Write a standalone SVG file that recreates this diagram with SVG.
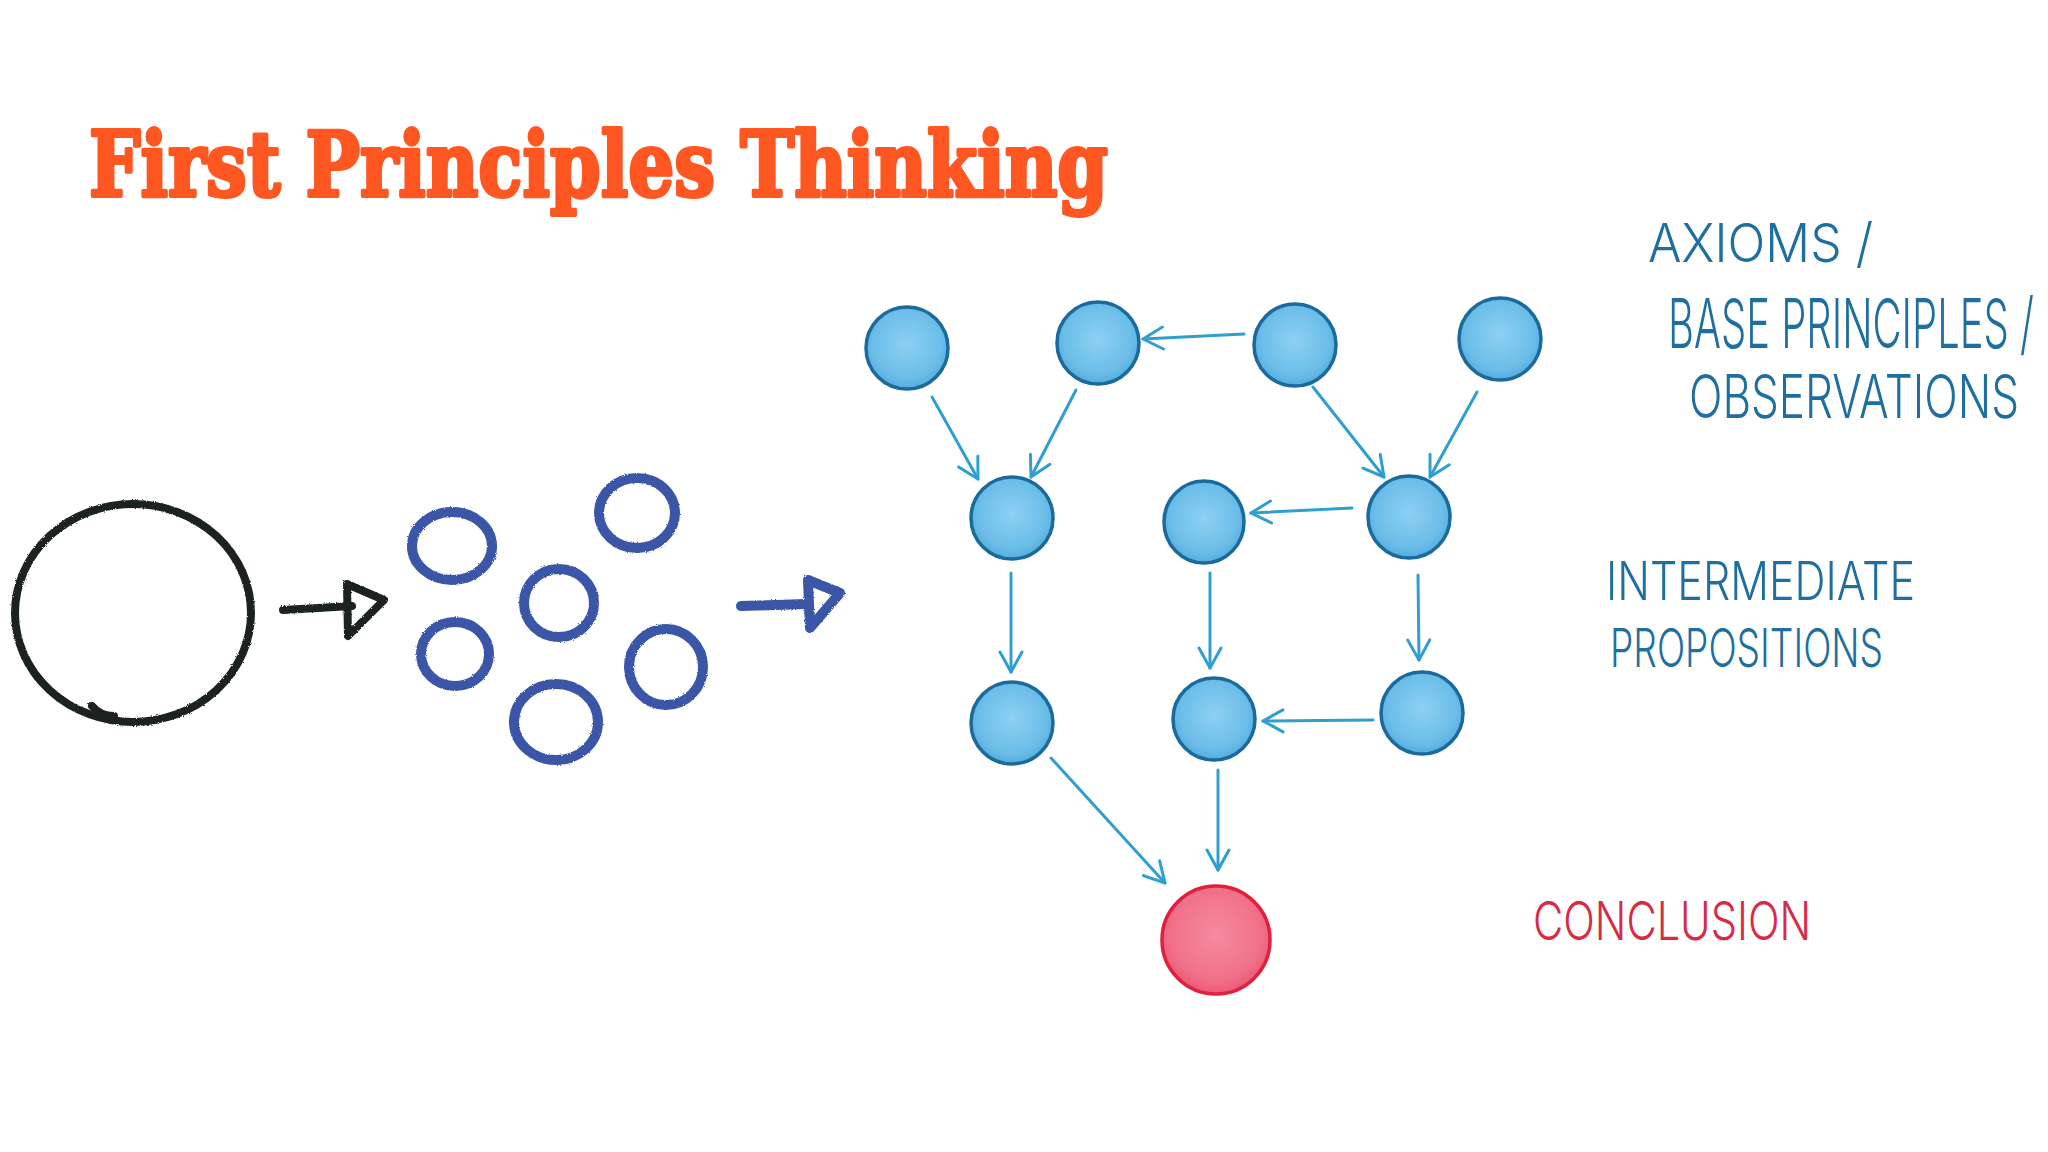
<svg xmlns="http://www.w3.org/2000/svg" width="2048" height="1152" viewBox="0 0 2048 1152">
  <defs>
    <radialGradient id="gBlue" cx="50%" cy="45%" r="60%">
      <stop offset="0" stop-color="#8dd0f2"/>
      <stop offset="0.7" stop-color="#6bbde8"/>
      <stop offset="1" stop-color="#4aa6da"/>
    </radialGradient>
    <radialGradient id="gRed" cx="50%" cy="45%" r="60%">
      <stop offset="0" stop-color="#f58aa0"/>
      <stop offset="0.7" stop-color="#f07189"/>
      <stop offset="1" stop-color="#ea4f6c"/>
    </radialGradient>
    <marker id="vhead" markerUnits="userSpaceOnUse" markerWidth="26" markerHeight="26" viewBox="0 0 26 26" refX="23" refY="13" orient="auto">
      <path d="M3,2 L23,13 L3,24" fill="none" stroke="#2f9fd0" stroke-width="3" stroke-linecap="round" stroke-linejoin="round"/>
    </marker>
    <filter id="rough" x="-10%" y="-10%" width="120%" height="120%">
      <feTurbulence type="fractalNoise" baseFrequency="0.9" numOctaves="2" seed="3"/>
      <feDisplacementMap in="SourceGraphic" scale="2.5"/>
    </filter>
  </defs>
  <style>
    .title { font-family: "DejaVu Serif", "Liberation Serif", serif; font-weight: 900; font-size: 90px; fill: #ff5722; stroke: #ff5722; stroke-width: 4; stroke-linejoin: round; }
    .node { fill: url(#gBlue); stroke: #1b6a9c; stroke-width: 3.5; }
    .concl { fill: url(#gRed); stroke: #e0203c; stroke-width: 3.5; }
    .edge { fill: none; stroke: #2f9fd0; stroke-width: 3; stroke-linecap: round; marker-end: url(#vhead); }
    .crayonBlack { fill: none; stroke: #1f2124; stroke-width: 8; stroke-linecap: round; stroke-linejoin: round; }
    .crayonBlue { fill: none; stroke: #3b56a6; stroke-width: 10; stroke-linecap: round; stroke-linejoin: round; }
    .hand { font-family: "Inter", "Liberation Sans", sans-serif; font-weight: 300; font-size: 54px; fill: #1e6f9f; }
    .handRed { font-family: "Inter", "Liberation Sans", sans-serif; font-weight: 300; font-size: 54px; fill: #d92a45; }
  </style>

  <rect x="0" y="0" width="2048" height="1152" fill="#ffffff"/>

  <text class="title" x="89" y="196" textLength="1019" lengthAdjust="spacingAndGlyphs">First Principles Thinking</text>

  <!-- Left sketch: whole, broken into pieces -->
  <g id="whole" filter="url(#rough)">
    <ellipse class="crayonBlack" cx="133" cy="613" rx="118" ry="109"/>
    <path class="crayonBlack" d="M92,706 Q100,716 114,716"/>
  </g>
  <g id="arrow-black" filter="url(#rough)">
    <path class="crayonBlack" d="M283,610 L352,606" stroke-width="20"/>
    <path class="crayonBlack" d="M347,584 L384,600 L348,636 Z" stroke-width="14"/>
  </g>
  <g id="pieces" class="crayonBlue" filter="url(#rough)">
    <ellipse cx="452" cy="546" rx="40" ry="34"/>
    <ellipse cx="637" cy="513" rx="38" ry="35"/>
    <ellipse cx="559" cy="603" rx="35" ry="34"/>
    <ellipse cx="455" cy="654" rx="34" ry="32"/>
    <ellipse cx="666" cy="667" rx="37" ry="38"/>
    <ellipse cx="556" cy="722" rx="42" ry="38"/>
  </g>
  <g id="arrow-blue" filter="url(#rough)">
    <path class="crayonBlue" d="M741,606 L806,604" stroke-width="14"/>
    <path class="crayonBlue" d="M808,580 L840,593 L810,628 Z" stroke-width="10"/>
  </g>

  <!-- Connectors -->
  <g id="connectors">
    <line class="edge" x1="1244" y1="334" x2="1143" y2="339"/>
    <line class="edge" x1="932" y1="397" x2="978" y2="479"/>
    <line class="edge" x1="1076" y1="390" x2="1031" y2="477"/>
    <line class="edge" x1="1313" y1="387" x2="1384" y2="477"/>
    <line class="edge" x1="1477" y1="392" x2="1430" y2="477"/>
    <line class="edge" x1="1352" y1="508" x2="1251" y2="513"/>
    <line class="edge" x1="1011" y1="573" x2="1011" y2="672"/>
    <line class="edge" x1="1210" y1="573" x2="1210" y2="668"/>
    <line class="edge" x1="1418" y1="575" x2="1419" y2="660"/>
    <line class="edge" x1="1373" y1="720" x2="1263" y2="721"/>
    <line class="edge" x1="1051" y1="758" x2="1165" y2="883"/>
    <line class="edge" x1="1218" y1="770" x2="1218" y2="870"/>
  </g>

  <!-- Nodes -->
  <g id="axiom1"><ellipse class="node" cx="907" cy="348" rx="41" ry="41"/></g>
  <g id="axiom2"><ellipse class="node" cx="1098" cy="343" rx="41" ry="41"/></g>
  <g id="axiom3"><ellipse class="node" cx="1295" cy="345" rx="41" ry="41"/></g>
  <g id="axiom4"><ellipse class="node" cx="1500" cy="339" rx="41" ry="41"/></g>
  <g id="inter1"><ellipse class="node" cx="1012" cy="518" rx="41" ry="41"/></g>
  <g id="inter2"><ellipse class="node" cx="1204" cy="522" rx="40" ry="41"/></g>
  <g id="inter3"><ellipse class="node" cx="1409" cy="517" rx="41" ry="41"/></g>
  <g id="inter4"><ellipse class="node" cx="1012" cy="723" rx="41" ry="41"/></g>
  <g id="inter5"><ellipse class="node" cx="1214" cy="719" rx="41" ry="41"/></g>
  <g id="inter6"><ellipse class="node" cx="1422" cy="713" rx="41" ry="41"/></g>
  <g id="conclusion"><ellipse class="concl" cx="1216" cy="940" rx="54" ry="54"/></g>

  <!-- Labels -->
  <g id="labels">
    <text class="hand" x="1648" y="262" textLength="225" lengthAdjust="spacingAndGlyphs">AXIOMS /</text>
    <text class="hand" x="1668" y="348" font-size="44" textLength="366" lengthAdjust="spacingAndGlyphs" transform="translate(0,348) scale(1,1.28) translate(0,-348)">BASE PRINCIPLES /</text>
    <text class="hand" x="1689" y="418" font-size="47" textLength="330" lengthAdjust="spacingAndGlyphs" transform="translate(0,418) scale(1,1.12) translate(0,-418)">OBSERVATIONS</text>
    <text class="hand" x="1606" y="600" textLength="309" lengthAdjust="spacingAndGlyphs">INTERMEDIATE</text>
    <text class="hand" x="1610" y="667" textLength="273" lengthAdjust="spacingAndGlyphs">PROPOSITIONS</text>
    <text class="handRed" x="1533" y="940" textLength="278" lengthAdjust="spacingAndGlyphs">CONCLUSION</text>
  </g>
</svg>
